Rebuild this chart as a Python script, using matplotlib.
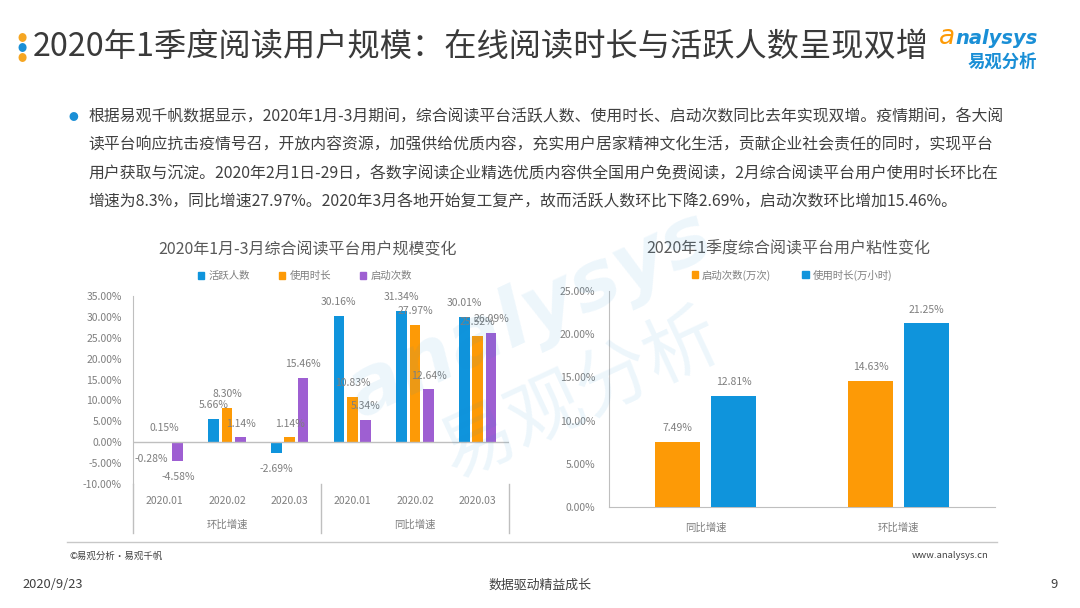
import numpy as np
import matplotlib.pyplot as plt
from matplotlib.patches import Patch
import matplotlib.transforms as mtransforms

plt.rcParams['font.family'] = ['Noto Sans CJK SC', 'DejaVu Sans']

# 左图数据
cats_left = ['2020.01', '2020.02', '2020.03', '2020.01', '2020.02', '2020.03']
groups_left = ['环比增速', '同比增速']
active_users = [-0.28, 5.66, -2.69, 30.16, 31.34, 30.01]
use_time = [0.15, 8.30, 1.14, 10.83, 27.97, 25.52]
launches = [-4.58, 1.14, 15.46, 5.34, 12.64, 26.09]
names_left = ['活跃人数', '使用时长', '启动次数']

# 右图数据
cats_right = ['同比增速', '环比增速']
launch_cnt = [7.49, 14.63]
use_hours = [12.81, 21.25]
names_right = ['启动次数(万次)', '使用时长(万小时)']

BLUE = '#0f94dc'
ORANGE = '#fd9a06'
PURPLE = '#9e5fd2'
GRAY = '#7f7f7f'
AXC = '#bfbfbf'

W, H = 1080, 608
fig = plt.figure(figsize=(10.8, 6.08), dpi=100)


def fx(px):
    return px / W


def fy(py):
    return 1 - py / H


def pct(v):
    return f'{v:.2f}%'


# 标题区
for yy, c in zip([38, 48, 59], ['#f5a623', '#1a8fd6', '#f5a623']):
    fig.text(fx(22), fy(yy), '●', color=c, fontsize=6.5, ha='center', va='center')
fig.text(fx(33), fy(47), '2020年1季度阅读用户规模：在线阅读时长与活跃人数呈现双增',
         fontsize=23.2, color='#3a3a3a', ha='left', va='center', weight='medium')
fig.text(fx(955), fy(37), 'a', fontsize=19, color=ORANGE, ha='right', va='center',
         style='italic', family=['DejaVu Sans'])
fig.text(fx(955), fy(38), 'nalysys', fontsize=14, color='#1a8fd6', ha='left', va='center',
         weight='bold', style='italic', family=['DejaVu Sans'])
fig.text(fx(1002), fy(62), '易观分析', fontsize=12.5, color='#1a8fd6', ha='center', va='center',
         weight='bold')

# 正文
lines = [
    '根据易观千帆数据显示，2020年1月-3月期间，综合阅读平台活跃人数、使用时长、启动次数同比去年实现双增。疫情期间，各大阅',
    '读平台响应抗击疫情号召，开放内容资源，加强供给优质内容，充实用户居家精神文化生活，贡献企业社会责任的同时，实现平台',
    '用户获取与沉淀。2020年2月1日-29日，各数字阅读企业精选优质内容供全国用户免费阅读，2月综合阅读平台用户使用时长环比在',
    '增速为8.3%，同比增速27.97%。2020年3月各地开始复工复产，故而活跃人数环比下降2.69%，启动次数环比增加15.46%。',
]
fig.text(fx(73), fy(117), '●', color='#1a8fd6', fontsize=7, ha='center', va='center')
for i, ln in enumerate(lines):
    fig.text(fx(88), fy(117 + i * 28.4), ln, fontsize=11.4, color='#404040',
             ha='left', va='center')

# 水印
fig.text(fx(530), fy(315), 'analysys', fontsize=58, color='#1a8fd6', alpha=0.08,
         rotation=25, ha='center', va='center', weight='bold', style='italic',
         family=['DejaVu Sans'], zorder=10)
fig.text(fx(580), fy(395), '易观分析', fontsize=54, color='#1a8fd6', alpha=0.08,
         rotation=25, ha='center', va='center', zorder=10)

# 左图
ax1 = fig.add_axes([fx(133), fy(484), fx(509) - fx(133), fy(296) - fy(484)])
x = np.arange(len(cats_left))
bw = 0.17
off = 0.215
for k, (vals, col) in enumerate(zip([active_users, use_time, launches], [BLUE, ORANGE, PURPLE])):
    xs = x + (k - 1) * off
    ax1.bar(xs, vals, width=bw, color=col, label=names_left[k], zorder=3)
    for xi, v in zip(xs, vals):
        ax1.annotate(pct(v), (xi, v), xytext=(0, 10 if v >= 0 else -11),
                     textcoords='offset points', ha='center', va='center',
                     fontsize=7.5, color=GRAY, zorder=5)
ax1.set_xlim(-0.5, 5.5)
ax1.set_ylim(-10, 35)
ax1.set_yticks(np.arange(-10, 36, 5))
ax1.set_yticklabels([pct(v) for v in np.arange(-10, 36, 5)], fontsize=7.5, color=GRAY)
ax1.set_xticks(x)
ax1.set_xticklabels(cats_left, fontsize=7.5, color=GRAY)
ax1.tick_params(axis='x', length=0, pad=9)
ax1.tick_params(axis='y', length=0, pad=8)
for s in ['top', 'right', 'bottom']:
    ax1.spines[s].set_visible(False)
ax1.spines['left'].set_color(AXC)
ax1.axhline(0, color=AXC, lw=1, zorder=4)
trans1 = mtransforms.blended_transform_factory(ax1.transData, ax1.transAxes)
ax1.plot([-0.5, -0.5], [0, -0.26], transform=trans1, color=AXC, lw=1, clip_on=False)
ax1.plot([2.5, 2.5], [0, -0.26], transform=trans1, color=AXC, lw=1, clip_on=False)
ax1.plot([5.5, 5.5], [0, -0.26], transform=trans1, color=AXC, lw=1, clip_on=False)
for gi, g in enumerate(groups_left):
    ax1.text(1 + gi * 3, -0.218, g, transform=trans1, fontsize=7.5, color=GRAY,
             ha='center', va='center')
ax1.set_title('2020年1月-3月综合阅读平台用户规模变化', fontsize=11.5, color='#595959',
              x=(308 - 133) / (509 - 133), y=1.0, pad=30)
ax1.legend(handles=[Patch(color=c, label=n) for c, n in zip([BLUE, ORANGE, PURPLE], names_left)],
           loc='center', bbox_to_anchor=((305 - 133) / 376, (484 - 276) / 188), ncol=3,
           frameon=False, fontsize=7.5, handlelength=0.6, handleheight=0.6,
           handletextpad=0.4, columnspacing=2.8, labelcolor=GRAY)

# 右图
ax2 = fig.add_axes([fx(609), fy(507), fx(995) - fx(609), fy(291) - fy(507)])
x2 = np.arange(len(cats_right))
bw2 = 0.23
off2 = 0.145
for k, (vals, col) in enumerate(zip([launch_cnt, use_hours], [ORANGE, BLUE])):
    xs = x2 + (k - 0.5) * 2 * off2
    ax2.bar(xs, vals, width=bw2, color=col, label=names_right[k], zorder=3)
    for xi, v in zip(xs, vals):
        ax2.annotate(pct(v), (xi, v), xytext=(0, 10), textcoords='offset points',
                     ha='center', va='center', fontsize=7.5, color=GRAY)
ax2.set_xlim(-0.5, 1.5)
ax2.set_ylim(0, 25)
ax2.set_yticks(np.arange(0, 26, 5))
ax2.set_yticklabels([pct(v) for v in np.arange(0, 26, 5)], fontsize=7.5, color=GRAY)
ax2.set_xticks(x2)
ax2.set_xticklabels(cats_right, fontsize=7.5, color=GRAY)
ax2.tick_params(axis='x', length=0, pad=11)
ax2.tick_params(axis='y', length=0, pad=10)
for s in ['top', 'right']:
    ax2.spines[s].set_visible(False)
ax2.spines['left'].set_color(AXC)
ax2.spines['bottom'].set_color(AXC)
ax2.set_title('2020年1季度综合阅读平台用户粘性变化', fontsize=11.5, color='#595959',
              x=(788 - 609) / 386, y=1.0, pad=27)
ax2.legend(handles=[Patch(color=c, label=n) for c, n in zip([ORANGE, BLUE], names_right)],
           loc='center', bbox_to_anchor=((792 - 609) / 386, (507 - 275) / 216), ncol=2,
           frameon=False, fontsize=7.5, handlelength=0.6, handleheight=0.6,
           handletextpad=0.4, columnspacing=3.0, labelcolor=GRAY)

# 页脚
fig.add_artist(plt.Line2D([fx(67), fx(997)], [fy(542), fy(542)], color='#c8c8c8', lw=1))
fig.text(fx(70), fy(556), '©易观分析·易观千帆', fontsize=6.8, color='#404040', ha='left', va='center')
fig.text(fx(989), fy(556), 'www.analysys.cn', fontsize=6.8, color='#404040', ha='right', va='center')
fig.text(fx(22), fy(585), '2020/9/23', fontsize=9.3, color='#404040', ha='left', va='center')
fig.text(fx(540), fy(585), '数据驱动精益成长', fontsize=9.3, color='#404040', ha='center', va='center')
fig.text(fx(1058), fy(585), '9', fontsize=9.3, color='#404040', ha='right', va='center')

fig.savefig('out.png', dpi=100)
